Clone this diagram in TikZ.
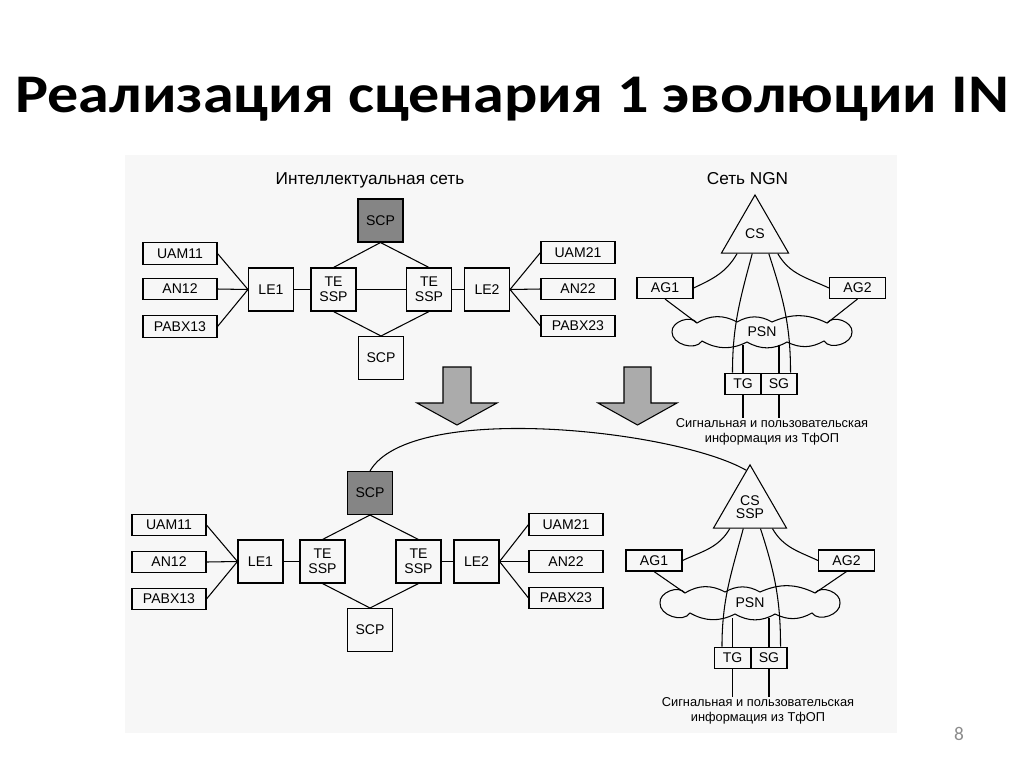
\documentclass[tikz,border=0pt]{standalone}
\usepackage{fontspec}
\setmainfont{Liberation Sans}
\newfontfamily\titlefont[FakeStretch=1.14]{Carlito}
\newfontfamily\numfont{Carlito}
\usetikzlibrary{shapes.geometric,calc}

\begin{document}
\begin{tikzpicture}[
	x=0.02cm, y=-0.02cm, line width=0.6pt,
	box/.style={draw, minimum width=1.48cm, minimum height=0.43cm, inner sep=0pt, font=\fontsize{8}{9}\selectfont},
	sq/.style={draw, minimum width=0.9cm, minimum height=0.86cm, inner sep=0pt, align=center, font=\fontsize{8}{8.6}\selectfont},
	gsq/.style={sq, fill=black!48},
	ag/.style={box, minimum width=1.12cm, minimum height=0.42cm},
	gw/.style={box, minimum width=0.72cm, minimum height=0.43cm},
	tri/.style={draw, regular polygon, regular polygon sides=3, inner sep=0pt, align=center, font=\fontsize{8}{7.6}\selectfont},
	psn/.style={ellipse, minimum width=3.68cm, minimum height=0.5cm, inner sep=0pt, font=\fontsize{8}{9}\selectfont},
	hd/.style={anchor=base, font=\fontsize{9.8}{11}\selectfont},
	note/.style={align=center, inner sep=0pt, font=\fontsize{7.3}{8.2}\selectfont},
	arr/.style={draw, fill=black!33, line join=miter}
]
	\useasboundingbox (0,0) rectangle (1024,768);
	\fill[black!3] (125,155) rectangle (897,733);

	\node[anchor=base, font=\titlefont\bfseries\fontsize{31}{36}\selectfont] (title) at (512,112) {Реализация сценария 1 эволюции IN};

	% upper part
	\node[hd] (in) at (370,184) {Интеллектуальная сеть};
	\node[gsq] (scp1) at (380.5,220.5) {SCP};
	\node[box] (uam11) at (180,253.5) {UAM11};
	\node[box] (an12) at (180,289) {AN12};
	\node[box] (pabx13) at (180,326.5) {PABX13};
	\node[sq] (le1) at (271,289.5) {LE1};
	\node[sq] (te1) at (333.5,289.5) {TE\\SSP};
	\node[sq] (te2) at (429,289.5) {TE\\SSP};
	\node[sq] (le2) at (487,289.5) {LE2};
	\node[sq] (scp2) at (381,358) {SCP};
	\node[box] (uam21) at (578,252.5) {UAM21};
	\node[box] (an22) at (578,289) {AN22};
	\node[box] (pabx23) at (578,326) {PABX23};

	\draw (uam11.east) -- (le1.west);
	\draw (an12.east) -- (le1.west);
	\draw (pabx13.east) -- (le1.west);
	\draw (le1) -- (te1);
	\draw (te1) -- (te2);
	\draw (te2) -- (le2);
	\draw (le2.east) -- (uam21.west);
	\draw (le2.east) -- (an22.west);
	\draw (le2.east) -- (pabx23.west);
	\draw (scp1.south) -- (te1.north);
	\draw (scp1.south) -- (te2.north);
	\draw (scp2.north) -- (te1.south);
	\draw (scp2.north) -- (te2.south);

	\node[hd] (ngn) at (747.5,184) {Сеть NGN};
	\node[tri, minimum size=1.55cm] (cs1) at (755,233.7) {CS};
	\node[ag] (ag11) at (665,288) {AG1};
	\node[ag] (ag21) at (857.5,288) {AG2};
	\node[psn] (psn1) at (762,332) {PSN};
	\node[gw] (tg1) at (743,384) {TG};
	\node[gw] (sg1) at (779,384) {SG};
	\node[note] (pstn1) at (772,432) {Сигнальная и пользовательская\\информация из ТфОП};

	% cloud
	\draw[shift={(psn1.center)}] (-90,0) to[bend left=75] (-65,-9) to[bend left=30] (-25,-10) to[bend left=30] (10,-10) to[bend left=25] (65,-9) to[bend left=75] (90,0)
		to[bend left=75] (62,9) to[bend left=28] (25,10) to[bend left=30] (-15,10) to[bend left=28] (-60,9) to[bend left=75] (-90,0);

	\draw (ag11.east) to[out=25, in=-120] ($(cs1.corner 2)!0.24!(cs1.corner 3)$);
	\draw (ag21.west) to[out=155, in=-60] ($(cs1.corner 2)!0.83!(cs1.corner 3)$);
	\draw ($(cs1.corner 2)!0.46!(cs1.corner 3)$) to[out=-105, in=90] ([xshift=0.16cm]tg1.north west);
	\draw ($(cs1.corner 2)!0.7!(cs1.corner 3)$) to[out=-72, in=90] ([xshift=-0.14cm]sg1.north east);
	\draw (ag11.south) -- (psn1.north west);
	\draw (ag21.south) -- (psn1.north east);
	\draw (tg1.north) -- (tg1.north |- psn1.south);
	\draw (sg1.north) -- (sg1.north |- psn1.south);
	\draw (tg1.south) -- (tg1.south |- pstn1.north);
	\draw (sg1.south) -- (sg1.south |- pstn1.north);

	% arrows
	\draw[arr] (443,367) -- ++(28,0) -- ++(0,36) -- ++(26,0) -- ++(-40,22) -- ++(-40,-22) -- ++(26,0) -- cycle;
	\draw[arr] (624,367) -- ++(27,0) -- ++(0,36) -- ++(26,0) -- ++(-39.5,22) -- ++(-39.5,-22) -- ++(26,0) -- cycle;

	% lower part
	\node[gsq] (scp3) at (370,493) {SCP};
	\node[box] (uam11b) at (169,525) {UAM11};
	\node[box] (an12b) at (169,562) {AN12};
	\node[box] (pabx13b) at (169,599) {PABX13};
	\node[sq] (le1b) at (260.5,561.5) {LE1};
	\node[sq] (te1b) at (322.5,561.5) {TE\\SSP};
	\node[sq] (te2b) at (418.5,561.5) {TE\\SSP};
	\node[sq] (le2b) at (476.5,561.5) {LE2};
	\node[sq] (scp4) at (370,630) {SCP};
	\node[box] (uam21b) at (566,524.5) {UAM21};
	\node[box] (an22b) at (566,561.5) {AN22};
	\node[box] (pabx23b) at (566,598) {PABX23};

	\draw (uam11b.east) -- (le1b.west);
	\draw (an12b.east) -- (le1b.west);
	\draw (pabx13b.east) -- (le1b.west);
	\draw (le1b) -- (te1b);
	\draw (te2b) -- (le2b);
	\draw (le2b.east) -- (uam21b.west);
	\draw (le2b.east) -- (an22b.west);
	\draw (le2b.east) -- (pabx23b.west);
	\draw (scp3.south) -- (te1b.north);
	\draw (scp3.south) -- (te2b.north);
	\draw (scp4.north) -- (te1b.south);
	\draw (scp4.north) -- (te2b.south);

	\node[tri, minimum size=1.686cm] (cs2) at (750,507) {CS\\SSP};
	\node[ag] (ag12) at (654,560.5) {AG1};
	\node[ag] (ag22) at (846.5,560.5) {AG2};
	\node[psn, minimum height=0.56cm] (psn2) at (750,603) {PSN};
	\node[gw] (tg2) at (732.5,658) {TG};
	\node[gw] (sg2) at (769,658) {SG};
	\node[note] (pstn2) at (758,711) {Сигнальная и пользовательская\\информация из ТфОП};

	% cloud
	\draw[shift={(psn2.center)}] (-90,0) to[bend left=75] (-65,-10) to[bend left=30] (-25,-11) to[bend left=30] (10,-11) to[bend left=25] (65,-10) to[bend left=75] (90,0)
		to[bend left=75] (62,10) to[bend left=28] (25,11) to[bend left=30] (-15,11) to[bend left=28] (-60,10) to[bend left=75] (-90,0);

	\draw (scp3.north) to[out=60, in=150, looseness=0.55] ($(cs2.corner 1)!0.1!(cs2.corner 2)$);
	\draw (ag12.east) to[out=25, in=-120] ($(cs2.corner 2)!0.23!(cs2.corner 3)$);
	\draw (ag22.west) to[out=155, in=-60] ($(cs2.corner 2)!0.8!(cs2.corner 3)$);
	\draw ($(cs2.corner 2)!0.41!(cs2.corner 3)$) to[out=-105, in=90] ([xshift=0.16cm]tg2.north west);
	\draw ($(cs2.corner 2)!0.64!(cs2.corner 3)$) to[out=-72, in=90] ([xshift=-0.14cm]sg2.north east);
	\draw (ag12.south) -- (psn2.north west);
	\draw (ag22.south) -- (psn2.north east);
	\draw (tg2.north) -- (tg2.north |- psn2.south);
	\draw (sg2.north) -- (sg2.north |- psn2.south);
	\draw (tg2.south) -- (tg2.south |- pstn2.north);
	\draw (sg2.south) -- (sg2.south |- pstn2.north);

	\node[text=black!45, font=\numfont\fontsize{11}{13}\selectfont] (num) at (959,734) {8};
\end{tikzpicture}
\end{document}
